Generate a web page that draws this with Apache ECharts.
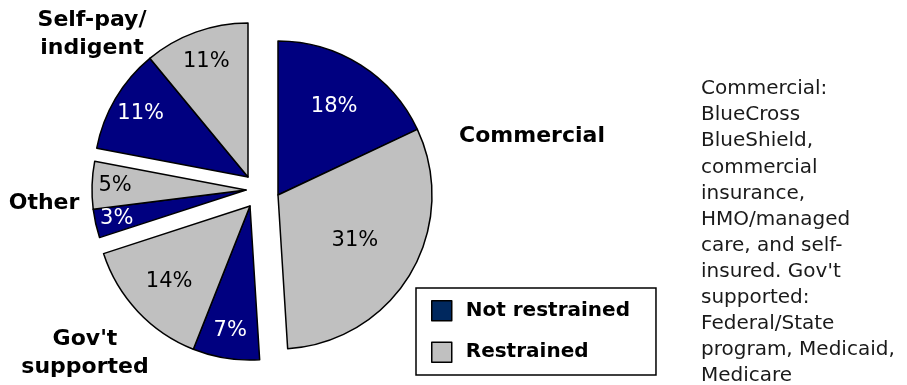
<!DOCTYPE html>
<html>
<head>
<meta charset="utf-8">
<script src="https://cdn.jsdelivr.net/npm/echarts@6/dist/echarts.min.js"></script>
<style>
  html, body { margin: 0; padding: 0; background: #fff; }
  #chart { width: 907px; height: 385px; }
</style>
</head>
<body>
<div id="chart"></div>
<script>
// Payer groups, each split into not restrained / restrained shares (percent)
const groups = ['Commercial', "Gov't supported", 'Other', 'Self-pay/indigent'];
const groupLabels = ['Commercial', "Gov't\nsupported", 'Other', 'Self-pay/\nindigent'];
const statuses = ['Not restrained', 'Restrained'];
const notRestrained = [18, 7, 3, 11];
const restrained = [31, 14, 5, 11];
const noteLines = [
  'Commercial:', 'BlueCross', 'BlueShield,', 'commercial', 'insurance,',
  'HMO/managed', 'care, and self-', "insured. Gov't", 'supported:',
  'Federal/State', 'program, Medicaid,', 'Medicare'
];

// Layout and styling
const pieRadius = 154;
const groupCenters = [[278, 195], [250, 206], [246, 190], [248, 177]];
const labelRadius = [[0.68, 0.58], [0.82, 0.72], [0.86, 0.85], [0.81, 0.80]];
const groupLabelPos = [[532, 136], [85, 353], [44, 203], [92, 34]];
const sliceColors = ['#000080', '#c0c0c0'];
const legendColors = ['#00285e', '#c0c0c0'];
const valueColors = ['#ffffff', '#000000'];
const font = 'DejaVu Sans';

// Flatten into the clockwise slice order: each group's two slices in turn
const slices = [];
groups.forEach((g, gi) => {
  slices.push({ g: gi, s: 0, v: notRestrained[gi] });
  slices.push({ g: gi, s: 1, v: restrained[gi] });
});
const total = slices.reduce((a, b) => a + b.v, 0);
let acc = 0;
slices.forEach(sl => { sl.start = acc; acc += sl.v; });

// One pie per group so every group can be pulled out on its own;
// slices belonging to other groups stay invisible placeholders.
const series = groups.map((g, gi) => ({
  type: 'pie',
  name: g,
  center: groupCenters[gi],
  radius: [0, pieRadius],
  startAngle: 90,
  clockwise: true,
  avoidLabelOverlap: false,
  animation: false,
  silent: true,
  label: { show: true, position: 'inside', formatter: '{c}%', fontSize: 21, fontFamily: font },
  labelLine: { show: false },
  labelLayout: function (p) {
    const sl = slices[p.dataIndex];
    const ang = (sl.start + sl.v / 2) / total * Math.PI * 2;
    const d = labelRadius[sl.g][sl.s] * pieRadius;
    const c = groupCenters[gi];
    return { x: c[0] + d * Math.sin(ang), y: c[1] - d * Math.cos(ang), align: 'center', verticalAlign: 'middle' };
  },
  data: slices.map(sl => {
    const own = sl.g === gi;
    return {
      name: statuses[sl.s],
      value: sl.v,
      itemStyle: own
        ? { color: sliceColors[sl.s], borderColor: '#000', borderWidth: 1.5 }
        : { color: 'rgba(0,0,0,0)', borderWidth: 0 },
      label: { show: own, color: valueColors[sl.s] }
    };
  })
}));

const graphic = groupLabels.map((t, i) => ({
  type: 'text',
  x: groupLabelPos[i][0],
  y: groupLabelPos[i][1],
  style: {
    text: t, fill: '#000', font: 'bold 22px "' + font + '"',
    align: 'center', verticalAlign: 'middle', lineHeight: 28
  }
}));
graphic.push({
  type: 'text',
  x: 701,
  y: 76,
  style: {
    text: noteLines.join('\n'), fill: '#1a1a1a', font: '20px "' + font + '"',
    align: 'left', verticalAlign: 'top', lineHeight: 26.1
  }
});

const chart = echarts.init(document.getElementById('chart'));
chart.setOption({
  backgroundColor: '#fff',
  animation: false,
  legend: {
    orient: 'vertical',
    left: 416,
    top: 288,
    selectedMode: false,
    data: statuses.map((n, i) => ({
      name: n,
      itemStyle: { color: legendColors[i], borderColor: '#000', borderWidth: 1.5 }
    })),
    icon: 'rect',
    itemWidth: 20,
    itemHeight: 20,
    itemGap: 20,
    padding: [12, 26, 12, 15],
    borderColor: '#000',
    borderWidth: 1.5,
    backgroundColor: '#fff',
    textStyle: { fontSize: 20, fontWeight: 'bold', fontFamily: font, color: '#000', padding: [0, 0, 0, 9] }
  },
  graphic: graphic,
  series: series
});
</script>
</body>
</html>
